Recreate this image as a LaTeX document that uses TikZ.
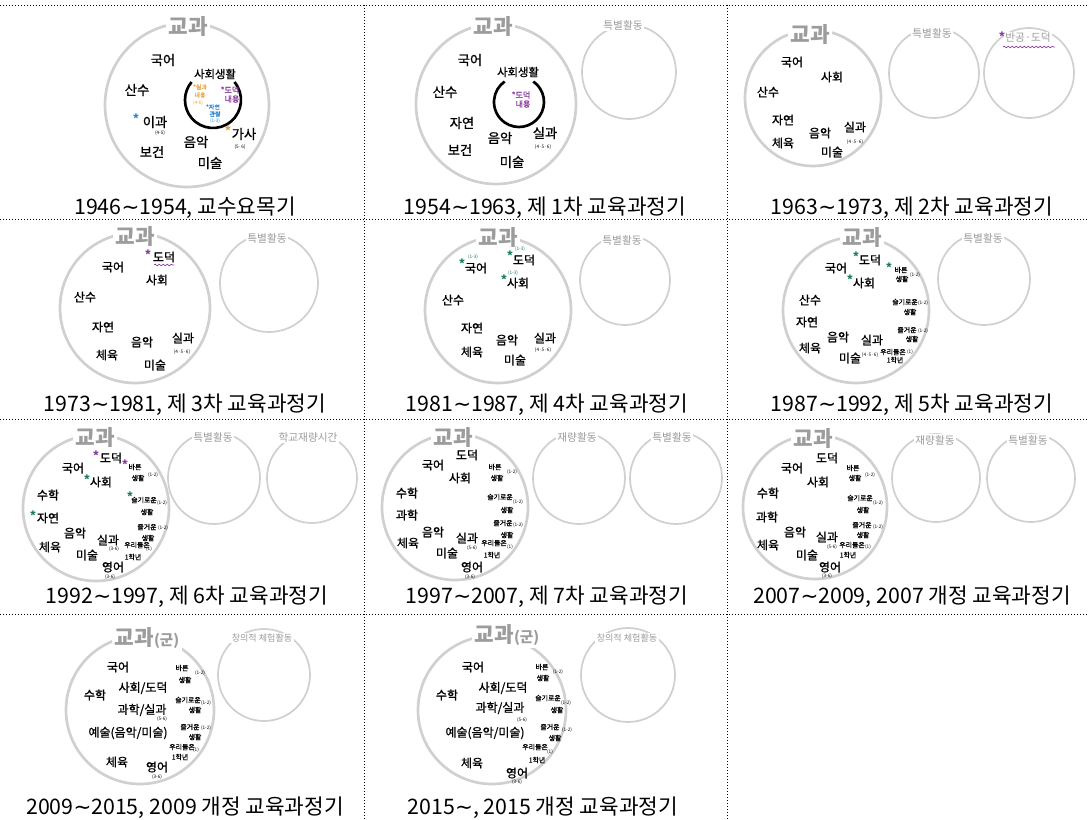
\documentclass[tikz,border=0pt]{standalone}
\usepackage{fontspec}
\setmainfont{Noto Sans CJK KR}
\newfontfamily\handfont{Noto Sans CJK KR}[FakeBold=1]
\newfontfamily\symfont{DejaVu Sans}
\newcommand{\wave}{{\symfont ∼}}
\usetikzlibrary{decorations.pathmorphing}

\definecolor{ringgray}{HTML}{D0D0D0}
\definecolor{titlegray}{HTML}{9C9C9C}
\definecolor{starpurple}{HTML}{8A3A9E}
\definecolor{starorange}{HTML}{E9A23B}
\definecolor{starblue}{HTML}{2C86D1}
\definecolor{stargreen}{HTML}{1E7D5E}

\tikzset{
  cellline/.style={line width=0.6pt, dash pattern=on 0.75pt off 1.5pt},
  ring/.style={draw=ringgray, line width=2pt},
  sring/.style={draw=ringgray, line width=1.3pt},
  arcline/.style={line width=2pt, black},
  wavy/.style={starpurple, line width=0.5pt, decorate, decoration={snake, amplitude=0.6pt, segment length=3pt}},
  bigtitle/.style={fill=white, inner sep=2pt, text=titlegray, font=\fontsize{16}{16}\selectfont\bfseries},
  acttitle/.style={fill=white, inner sep=1pt, text=titlegray, font=\fontsize{8}{8}\selectfont},
  bsubj/.style={inner sep=0pt, font=\handfont\fontsize{10}{10}\selectfont},
  subj/.style={inner sep=0pt, font=\handfont\fontsize{9}{9}\selectfont},
  minor/.style={inner sep=0pt, font=\handfont\fontsize{5.2}{5.2}\selectfont},
  grade/.style={inner sep=0pt, font=\fontsize{3.5}{3.5}\selectfont},
  ast/.style={inner sep=0pt, font=\fontsize{9}{9}\selectfont\bfseries},
  period/.style={inner sep=0pt, font=\fontsize{16}{16}\selectfont},
}

\begin{document}
\begin{tikzpicture}[x=0.75pt,y=-0.75pt]
\useasboundingbox (0,0) rectangle (1090,820);

\draw[cellline] (0,5) -- (1088,5);
\draw[cellline] (0,219) -- (1088,219);
\draw[cellline] (0,419) -- (1088,419);
\draw[cellline] (0,614) -- (1088,614);
\draw[cellline] (364,5) -- (364,820);
\draw[cellline] (727,5) -- (727,820);

% 1946~1954
\draw[ring] (187,105) circle (82);
\draw[arcline] (213,100) ++(-40:28) arc[start angle=-40, end angle=220, radius=28];
\node (p1title) at (188,27) [bigtitle] {교과};
\node (p1kor) at (163,60) [bsubj] {국어};
\node (p1math) at (137,90) [bsubj] {산수};
\node (p1sci) at (155,122) [bsubj] {이과};
\node (p1scia) at (136,119) [ast, text=starblue] {*};
\node (p1scig) at (160,133) [grade] {(4-5)};
\node (p1hlth) at (152,152) [bsubj] {보건};
\node (p1mus) at (196,142) [bsubj] {음악};
\node (p1art) at (210,163) [bsubj] {미술};
\node (p1home) at (244,134) [bsubj] {가사};
\node (p1homea) at (228,131) [ast, text=starorange] {*};
\node (p1homeg) at (240,147) [grade] {(5·6)};
\node (p1soc) at (215,74) [subj, font=\handfont\fontsize{8.5}{8.5}\selectfont] {사회생활};
\node (p1prac) at (200,87) [minor, text=starorange, font=\handfont\fontsize{4.5}{4.5}\selectfont] {*실과};
\node (p1prac2) at (200,95) [minor, text=starorange, font=\handfont\fontsize{4.5}{4.5}\selectfont] {내용};
\node (p1prac3) at (198,103) [grade, text=starorange] {(4-6)};
\node (p1mor) at (230,90) [minor, text=starpurple, font=\handfont\fontsize{6}{6}\selectfont] {*도덕};
\node (p1mor2) at (232,99) [minor, text=starpurple, font=\handfont\fontsize{6}{6}\selectfont] {내용};
\node (p1nat) at (213,107) [minor, text=starblue, font=\handfont\fontsize{4.5}{4.5}\selectfont] {*자연};
\node (p1nat2) at (215,114) [minor, text=starblue, font=\handfont\fontsize{4.5}{4.5}\selectfont] {관찰};
\node (p1nat3) at (215,121) [grade, text=starblue] {(1-3)};
\node (p1cap) at (185,208) [period] {1946\wave1954, 교수요목기};

% 1954~1963
\draw[ring] (496,104) circle (80);
\draw[sring] (629,72) circle (47);
\draw[arcline] (519,102) ++(-55:25) arc[start angle=-55, end angle=235, radius=25];
\node (p2title) at (493,27) [bigtitle] {교과};
\node (p2act) at (623,25) [acttitle] {특별활동};
\node (p2kor) at (470,60) [bsubj] {국어};
\node (p2math) at (445,92) [bsubj] {산수};
\node (p2nat) at (462,123) [bsubj] {자연};
\node (p2hlth) at (460,150) [bsubj] {보건};
\node (p2mus) at (500,138) [bsubj] {음악};
\node (p2art) at (512,162) [bsubj] {미술};
\node (p2prac) at (545,133) [bsubj] {실과};
\node (p2pracg) at (543,147) [grade] {(4·5·6)};
\node (p2soc) at (518,72) [subj, font=\handfont\fontsize{8.5}{8.5}\selectfont] {사회생활};
\node (p2mor) at (521,95) [minor, text=starpurple, font=\handfont\fontsize{6}{6}\selectfont] {*도덕};
\node (p2mor2) at (523,104) [minor, text=starpurple, font=\handfont\fontsize{6}{6}\selectfont] {내용};
\node (p2cap) at (545,208) [period] {1954\wave1963, 제 1차 교육과정기};

% 1963~1973
\draw[ring] (813,98) circle (68);
\draw[sring] (934,73) circle (45);
\draw[sring] (1029,73) circle (45);
\node (p3title) at (810,35) [bigtitle] {교과};
\node (p3act) at (932,33) [acttitle] {특별활동};
\node (p3anti) at (1028,38) [acttitle] {반공·도덕};
\node (p3antia) at (1002,37) [ast, text=starpurple] {*};
\draw[wavy] (1003,47) -- (1055,47);
\node (p3kor) at (792,62) [subj] {국어};
\node (p3soc) at (832,77) [subj] {사회};
\node (p3math) at (768,92) [subj] {산수};
\node (p3nat) at (783,120) [subj] {자연};
\node (p3pe) at (783,143) [subj] {체육};
\node (p3mus) at (820,133) [subj] {음악};
\node (p3art) at (832,152) [subj] {미술};
\node (p3prac) at (855,127) [subj] {실과};
\node (p3pracg) at (855,142) [grade] {(4·5·6)};
\node (p3cap) at (912,208) [period] {1963\wave1973, 제 2차 교육과정기};

% 1973~1981
\draw[ring] (135,308) circle (75);
\draw[sring] (269,283) circle (49);
\node (p4title) at (135,237) [bigtitle] {교과};
\node (p4act) at (267,238) [acttitle] {특별활동};
\node (p4mor) at (164,257) [subj] {도덕};
\node (p4mora) at (148,255) [ast, text=starpurple] {*};
\draw[wavy] (154,265) -- (174,265);
\node (p4kor) at (113,267) [subj] {국어};
\node (p4soc) at (157,280) [subj] {사회};
\node (p4math) at (85,297) [subj] {산수};
\node (p4nat) at (103,327) [subj] {자연};
\node (p4pe) at (107,355) [subj] {체육};
\node (p4mus) at (142,342) [subj] {음악};
\node (p4art) at (155,365) [subj] {미술};
\node (p4prac) at (183,338) [subj] {실과};
\node (p4pracg) at (182,352) [grade] {(4·5·6)};
\node (p4cap) at (185,405) [period] {1973\wave1981, 제 3차 교육과정기};

% 1981~1987
\draw[ring] (498,310) circle (73);
\draw[sring] (625,280) circle (45);
\node (p5title) at (498,238) [bigtitle] {교과};
\node (p5act) at (622,240) [acttitle] {특별활동};
\node (p5kor) at (476,268) [subj] {국어};
\node (p5kora) at (462,264) [ast, text=stargreen] {*};
\node (p5korg) at (473,257) [grade, text=stargreen] {(1-3)};
\node (p5mor) at (524,260) [subj] {도덕};
\node (p5mora) at (510,256) [ast, text=stargreen] {*};
\node (p5morg) at (520,249) [grade, text=stargreen] {(1-3)};
\node (p5soc) at (518,283) [subj] {사회};
\node (p5soca) at (504,280) [ast, text=stargreen] {*};
\node (p5socg) at (513,273) [grade, text=stargreen] {(1-3)};
\node (p5math) at (453,300) [subj] {산수};
\node (p5nat) at (472,328) [subj] {자연};
\node (p5pe) at (472,352) [subj] {체육};
\node (p5mus) at (507,340) [subj] {음악};
\node (p5art) at (515,360) [subj] {미술};
\node (p5prac) at (545,338) [subj] {실과};
\node (p5pracg) at (543,350) [grade] {(4·5·6)};
\node (p5cap) at (547,405) [period] {1981\wave1987, 제 4차 교육과정기};

% 1987~1992
\draw[ring] (856,310) circle (73);
\draw[sring] (984,279) circle (46);
\node (p6title) at (862,238) [bigtitle] {교과};
\node (p6act) at (983,238) [acttitle] {특별활동};
\node (p6mor) at (870,260) [subj] {도덕};
\node (p6mora) at (856,257) [ast, text=stargreen] {*};
\node (p6kor) at (836,268) [subj] {국어};
\node (p6soc) at (864,283) [subj] {사회};
\node (p6soca) at (850,280) [ast, text=stargreen] {*};
\node (p6right) at (901,270) [minor] {바른};
\node (p6righta) at (889,268) [ast, text=stargreen] {*};
\node (p6right2) at (902,279) [minor] {생활};
\node (p6rightg) at (915,275) [grade] {(1-2)};
\node (p6math) at (810,300) [subj] {산수};
\node (p6nat) at (807,322) [subj] {자연};
\node (p6pe) at (810,348) [subj] {체육};
\node (p6mus) at (838,337) [subj] {음악};
\node (p6art) at (850,358) [subj] {미술};
\node (p6prac) at (872,340) [subj] {실과};
\node (p6pracg) at (870,355) [grade] {(4·5·6)};
\node (p6wise) at (905,302) [minor] {슬기로운};
\node (p6wiseg) at (923,303) [grade] {(1-2)};
\node (p6wise2) at (910,312) [minor] {생활};
\node (p6joy) at (907,330) [minor] {즐거운};
\node (p6joyg) at (923,331) [grade] {(1-2)};
\node (p6joy2) at (912,339) [minor] {생활};
\node (p6we) at (893,352) [minor] {우리들은};
\node (p6weg) at (910,352) [grade] {(1)};
\node (p6we2) at (895,360) [minor] {1학년};
\node (p6cap) at (912,405) [period] {1987\wave1992, 제 5차 교육과정기};

% 1992~1997
\draw[ring] (96,508) circle (73);
\draw[sring] (214,478) circle (46);
\draw[sring] (312,478) circle (45);
\node (p7title) at (95,437) [bigtitle] {교과};
\node (p7act) at (213,437) [acttitle] {특별활동};
\node (p7free) at (308,437) [acttitle] {학교재량시간};
\node (p7mor) at (111,458) [subj] {도덕};
\node (p7mora) at (96,456) [ast, text=starpurple] {*};
\node (p7kor) at (73,468) [subj] {국어};
\node (p7soc) at (101,482) [subj] {사회};
\node (p7soca) at (87,480) [ast, text=stargreen] {*};
\node (p7right) at (135,467) [minor] {바른};
\node (p7righta) at (125,465) [ast, text=starpurple] {*};
\node (p7right2) at (138,478) [minor] {생활};
\node (p7rightg) at (153,475) [grade] {(1-2)};
\node (p7math) at (48,495) [subj] {수학};
\node (p7nat) at (48,518) [subj] {자연};
\node (p7nata) at (33,516) [ast, text=stargreen] {*};
\node (p7wise) at (144,500) [minor] {슬기로운};
\node (p7wisea) at (130,497) [ast, text=stargreen] {*};
\node (p7wiseg) at (162,503) [grade] {(1-2)};
\node (p7wise2) at (147,512) [minor] {생활};
\node (p7joy) at (147,527) [minor] {즐거운};
\node (p7joyg) at (163,528) [grade] {(1-2)};
\node (p7joy2) at (148,538) [minor] {생활};
\node (p7pe) at (50,547) [subj] {체육};
\node (p7mus) at (75,533) [subj] {음악};
\node (p7art) at (87,555) [subj] {미술};
\node (p7prac) at (108,540) [subj] {실과};
\node (p7pracg) at (114,549) [grade] {(3-6)};
\node (p7we) at (137,545) [minor] {우리들은};
\node (p7weg) at (149,549) [grade] {(1)};
\node (p7we2) at (133,557) [minor] {1학년};
\node (p7eng) at (113,567) [subj] {영어};
\node (p7engg) at (110,577) [grade] {(3-6)};
\node (p7cap) at (187,597) [period] {1992\wave1997, 제 6차 교육과정기};

% 1997~2007
\draw[ring] (455,507) circle (73);
\draw[sring] (579,478) circle (46);
\draw[sring] (676,478) circle (46);
\node (p8title) at (453,437) [bigtitle] {교과};
\node (p8free) at (577,437) [acttitle] {재량활동};
\node (p8act) at (672,437) [acttitle] {특별활동};
\node (p8mor) at (467,455) [subj] {도덕};
\node (p8kor) at (433,465) [subj] {국어};
\node (p8soc) at (460,478) [subj] {사회};
\node (p8right) at (495,467) [minor] {바른};
\node (p8right2) at (497,478) [minor] {생활};
\node (p8rightg) at (512,472) [grade] {(1-2)};
\node (p8math) at (407,493) [subj] {수학};
\node (p8sci) at (407,515) [subj] {과학};
\node (p8wise) at (500,497) [minor] {슬기로운};
\node (p8wiseg) at (518,502) [grade] {(1-2)};
\node (p8wise2) at (507,510) [minor] {생활};
\node (p8joy) at (503,523) [minor] {즐거운};
\node (p8joyg) at (518,525) [grade] {(1-2)};
\node (p8joy2) at (507,535) [minor] {생활};
\node (p8pe) at (408,543) [subj] {체육};
\node (p8mus) at (433,532) [subj] {음악};
\node (p8art) at (447,553) [subj] {미술};
\node (p8prac) at (467,538) [subj] {실과};
\node (p8pracg) at (472,548) [grade] {(5-6)};
\node (p8we) at (494,543) [minor] {우리들은};
\node (p8weg) at (510,547) [grade] {(1)};
\node (p8we2) at (492,555) [minor] {1학년};
\node (p8eng) at (472,567) [subj] {영어};
\node (p8engg) at (470,577) [grade] {(3-6)};
\node (p8cap) at (547,597) [period] {1997\wave2007, 제 7차 교육과정기};

% 2007~2009
\draw[ring] (815,507) circle (72);
\draw[sring] (936,478) circle (44);
\draw[sring] (1031,478) circle (44);
\node (p9title) at (813,438) [bigtitle] {교과};
\node (p9free) at (935,440) [acttitle] {재량활동};
\node (p9act) at (1028,440) [acttitle] {특별활동};
\node (p9mor) at (827,458) [subj] {도덕};
\node (p9kor) at (792,468) [subj] {국어};
\node (p9soc) at (818,482) [subj] {사회};
\node (p9right) at (853,468) [minor] {바른};
\node (p9right2) at (855,478) [minor] {생활};
\node (p9rightg) at (870,475) [grade] {(1-2)};
\node (p9math) at (768,493) [subj] {수학};
\node (p9sci) at (767,517) [subj] {과학};
\node (p9wise) at (860,498) [minor] {슬기로운};
\node (p9wiseg) at (878,503) [grade] {(1-2)};
\node (p9wise2) at (863,510) [minor] {생활};
\node (p9joy) at (862,525) [minor] {즐거운};
\node (p9joyg) at (878,527) [grade] {(1-2)};
\node (p9joy2) at (863,535) [minor] {생활};
\node (p9pe) at (768,545) [subj] {체육};
\node (p9mus) at (795,532) [subj] {음악};
\node (p9art) at (807,555) [subj] {미술};
\node (p9prac) at (827,537) [subj] {실과};
\node (p9pracg) at (832,547) [grade] {(5-6)};
\node (p9we) at (852,545) [minor] {우리들은};
\node (p9weg) at (868,547) [grade] {(1)};
\node (p9we2) at (848,555) [minor] {1학년};
\node (p9eng) at (830,567) [subj] {영어};
\node (p9engg) at (827,576) [grade] {(3-6)};
\node (p9cap) at (912,597) [period] {2007\wave2009, 2007 개정 교육과정기};

% 2009~2015
\draw[ring] (140,710) circle (74);
\draw[sring] (264,675) circle (46);
\node (p10title) at (147,638) [bigtitle] {교과{\fontsize{11}{11}\selectfont(군)}};
\node (p10act) at (262,638) [acttitle, font=\fontsize{6.8}{6.8}\selectfont] {창의적 체험활동};
\node (p10kor) at (118,667) [subj] {국어};
\node (p10right) at (182,668) [minor] {바른};
\node (p10rightg) at (200,673) [grade] {(1-2)};
\node (p10right2) at (185,680) [minor] {생활};
\node (p10math) at (95,695) [subj] {수학};
\node (p10soc) at (143,688) [subj] {사회/도덕};
\node (p10wise) at (188,700) [minor] {슬기로운};
\node (p10wiseg) at (206,703) [grade] {(1-2)};
\node (p10wise2) at (195,710) [minor] {생활};
\node (p10sci) at (142,710) [subj] {과학/실과};
\node (p10scig) at (162,719) [grade] {(5-6)};
\node (p10joy) at (190,727) [minor] {즐거운};
\node (p10joyg) at (206,728) [grade] {(1-2)};
\node (p10joy2) at (195,737) [minor] {생활};
\node (p10arts) at (128,733) [subj] {예술(음악/미술)};
\node (p10we) at (182,747) [minor] {우리들은};
\node (p10weg) at (196,750) [grade] {(1)};
\node (p10we2) at (180,757) [minor] {1학년};
\node (p10pe) at (117,762) [subj] {체육};
\node (p10eng) at (157,767) [subj] {영어};
\node (p10engg) at (157,777) [grade] {(3-6)};
\node (p10cap) at (185,808) [period] {2009\wave2015, 2009 개정 교육과정기};

% 2015~
\draw[ring] (492,710) circle (74);
\draw[sring] (628,675) circle (47);
\node (p11title) at (507,635) [bigtitle] {교과{\fontsize{11}{11}\selectfont(군)}};
\node (p11act) at (627,638) [acttitle, font=\fontsize{6.8}{6.8}\selectfont] {창의적 체험활동};
\node (p11kor) at (473,667) [subj] {국어};
\node (p11right) at (542,667) [minor] {바른};
\node (p11rightg) at (558,672) [grade] {(1-2)};
\node (p11right2) at (543,678) [minor] {생활};
\node (p11math) at (447,695) [subj] {수학};
\node (p11soc) at (503,688) [subj] {사회/도덕};
\node (p11wise) at (548,698) [minor] {슬기로운};
\node (p11wiseg) at (566,703) [grade] {(1-2)};
\node (p11wise2) at (557,710) [minor] {생활};
\node (p11sci) at (500,708) [subj] {과학/실과};
\node (p11scig) at (522,720) [grade] {(5-6)};
\node (p11joy) at (550,727) [minor] {즐거운};
\node (p11joyg) at (567,730) [grade] {(1-2)};
\node (p11joy2) at (555,738) [minor] {생활};
\node (p11arts) at (485,733) [subj] {예술(음악/미술)};
\node (p11we) at (535,747) [minor] {우리들은};
\node (p11weg) at (550,752) [grade] {(1)};
\node (p11we2) at (537,760) [minor] {1학년};
\node (p11pe) at (472,763) [subj] {체육};
\node (p11eng) at (517,773) [subj] {영어};
\node (p11engg) at (517,782) [grade] {(3-6)};
\node (p11cap) at (543,808) [period] {2015\wave, 2015 개정 교육과정기};

\end{tikzpicture}
\end{document}
